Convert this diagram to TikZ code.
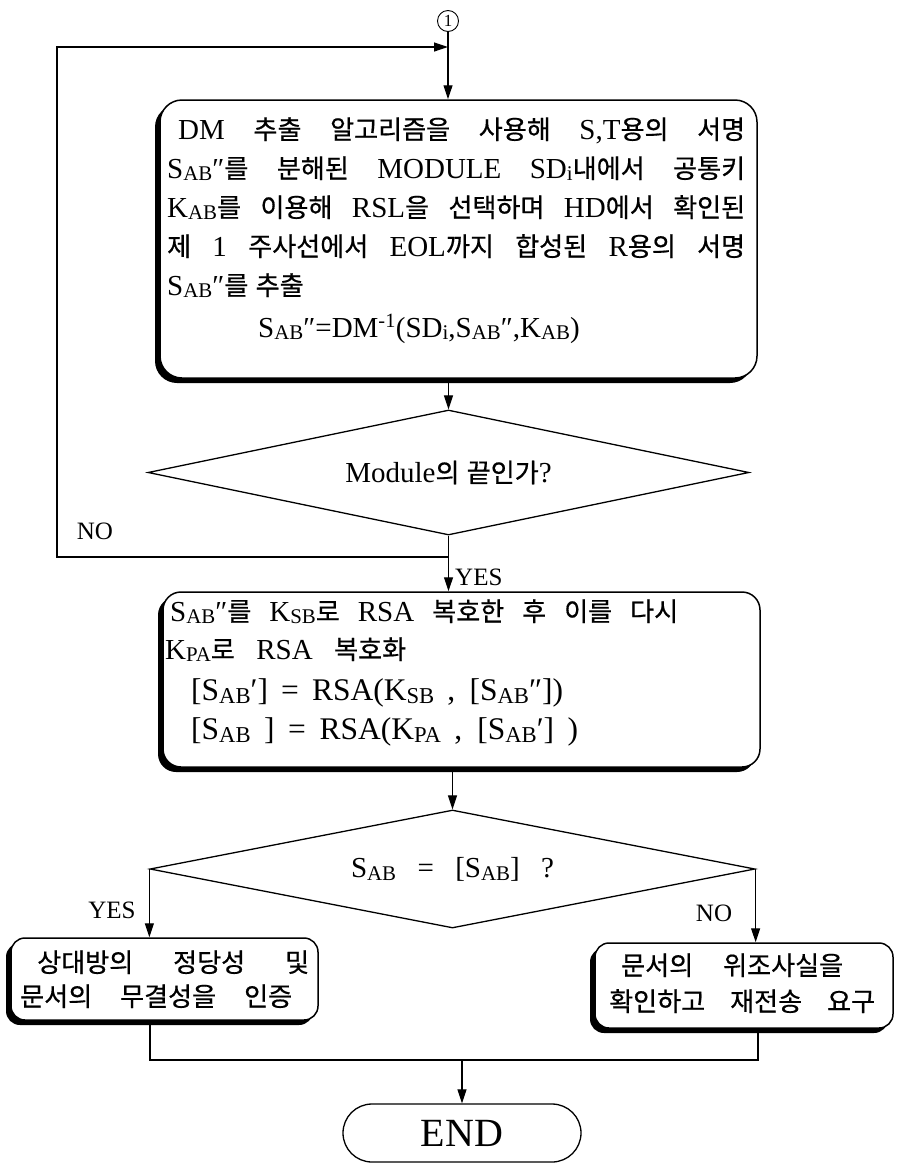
\documentclass[tikz,border=0pt]{standalone}
\usepackage{fontspec}
\usepackage{graphicx}
\setmainfont{Liberation Serif}
\newfontfamily\krf[Scale=0.9,FakeBold=0.6]{Noto Sans CJK KR}
\usetikzlibrary{arrows.meta,shapes.geometric,shadows}
\newcommand\hg[1]{{\krf #1}}
\newcommand\lw[1]{\raisebox{-0.1em}{\scalebox{0.72}{#1}}}
\tikzset{
  ln/.style={line width=1.2pt},
  arr/.style={ln, -{Triangle[length=14pt,width=9pt]}},
  pbox/.style={draw, line width=1.5pt, fill=white, rounded corners=#1, inner sep=0pt,
    drop shadow={shadow xshift=-5pt, shadow yshift=-5pt, fill=black, opacity=1}},
  dia/.style={diamond, draw, line width=1.3pt, inner sep=0pt, font=\fontsize{29}{34}\selectfont},
  txt/.style={anchor=base west, inner sep=0pt, font=\fontsize{29}{38}\selectfont},
  bigtxt/.style={txt, font=\fontsize{31.5}{38}\selectfont},
  lab/.style={inner sep=0pt, font=\fontsize{25}{30}\selectfont},
}
\begin{document}
\begin{tikzpicture}[x=1pt,y=-1pt]
\useasboundingbox (0,0) rectangle (897,1165);
% connector mark
\node[circle, draw, line width=0.9pt, inner sep=0pt, minimum size=21pt, font=\fontsize{17}{17}\selectfont] (c1) at (448,21) {1};
% boxes
\node[pbox=22pt, minimum width=597pt, minimum height=278pt] (b1) at (458.5,239) {};
\node[dia, aspect=4.8, minimum width=601pt, minimum height=125pt] (d1) at (448.5,472.5) {Module\hg{의} \hg{끝인가}?};
\node[pbox=18pt, minimum width=597pt, minimum height=175pt] (b2) at (461.5,679.5) {};
\node[dia, aspect=5.1, minimum width=605pt, minimum height=118pt] (d2) at (452.5,869) {\makebox[203pt][s]{S\lw{AB} = [S\lw{AB}] ?}};
\node[pbox=14pt, minimum width=307pt, minimum height=82pt] (bl) at (164.5,979) {};
\node[pbox=14pt, minimum width=298pt, minimum height=85pt] (br) at (744,985.5) {};
\node[draw, line width=1.3pt, rounded corners=29pt, minimum width=238pt, minimum height=58pt, inner sep=0pt, font=\fontsize{40}{44}\selectfont] (end) at (462,1133) {END};
% box 1 text
\node[txt] (t11) at (178,139) {\makebox[567pt][s]{DM \hg{추출} \hg{알고리즘을} \hg{사용해} S,T\hg{용의} \hg{서명}}};
\node[txt] (t12) at (167,178) {\makebox[578pt][s]{S\lw{AB}″\hg{를} \hg{분해된} MODULE SD\lw{i}\hg{내에서} \hg{공통키}}};
\node[txt] (t13) at (167,217) {\makebox[578pt][s]{K\lw{AB}\hg{를} \hg{이용해} RSL\hg{을} \hg{선택하며} HD\hg{에서} \hg{확인된}}};
\node[txt] (t14) at (167,256) {\makebox[578pt][s]{\hg{제} 1 \hg{주사선에서} EOL\hg{까지} \hg{합성된} R\hg{용의} \hg{서명}}};
\node[txt] (t15) at (167,295) {S\lw{AB}″\hg{를} \hg{추출}};
\node[txt] (t16) at (258,337) {S\lw{AB}″=DM\textsuperscript{-1}(SD\lw{i},S\lw{AB}″,K\lw{AB})};
% box 2 text
\node[txt] (t21) at (170,621) {\makebox[508pt][s]{S\lw{AB}″\hg{를} K\lw{SB}\hg{로} RSA \hg{복호한} \hg{후} \hg{이를} \hg{다시}}};
\node[txt] (t22) at (165,659) {\makebox[241pt][s]{K\lw{PA}\hg{로} RSA \hg{복호화}}};
\node[bigtxt] (t23) at (191,700) {\makebox[372pt][s]{[S\lw{AB}′] = RSA(K\lw{SB} , [S\lw{AB}″])}};
\node[bigtxt] (t24) at (191,739) {\makebox[387pt][s]{[S\lw{AB} ] = RSA(K\lw{PA} , [S\lw{AB}′] )}};
% bottom boxes text
\node[txt] (t31) at (37,972) {\makebox[272pt][s]{\hg{상대방의} \hg{정당성} \hg{및}}};
\node[txt] (t32) at (20,1006) {\makebox[272pt][s]{\hg{문서의} \hg{무결성을} \hg{인증}}};
\node[txt] (t41) at (621,975) {\makebox[222pt][s]{\hg{문서의} \hg{위조사실을}}};
\node[txt] (t42) at (609,1011) {\makebox[266pt][s]{\hg{확인하고} \hg{재전송} \hg{요구}}};
% labels
\node[lab] (no1) at (95,531) {NO};
\node[lab, anchor=west] (yes1) at (455,577) {YES};
\node[lab] (yes2) at (112,910) {YES};
\node[lab] (no2) at (714,913) {NO};
% coordinates
\coordinate (lpA) at (57,557);
\coordinate (lpB) at (57,47);
\coordinate (mL) at (150,1060);
\coordinate (mR) at (758,1060);
% connectors
\draw[arr] (c1.south) -- (c1.south |- b1.north);
\draw[arr] (d1.south |- lpA) -- (lpA) -- (lpB) -- (c1.south |- lpB);
\draw[arr] (d1.north |- b1.south) -- (d1.north);
\draw[arr] (d1.south) -- (d1.south |- b2.north);
\draw[arr] (d2.north |- b2.south) -- (d2.north);
\draw[arr] (d2.west) -- (d2.west |- bl.north);
\draw[arr] (d2.east) -- (d2.east |- br.north);
\draw[ln] (bl.south -| mL) -- (mL) -- (mR) -- (br.south -| mR);
\draw[arr] (end.north |- mL) -- (end.north);
\end{tikzpicture}
\end{document}
